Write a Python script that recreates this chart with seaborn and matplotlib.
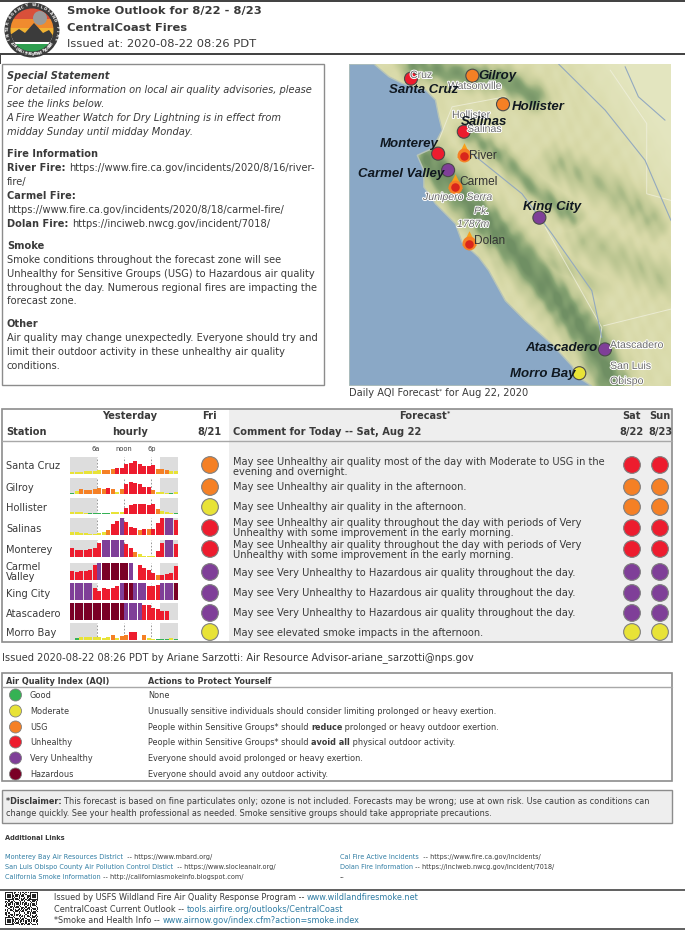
import numpy as np
import pandas as pd
import matplotlib
matplotlib.use("Agg")
import matplotlib.pyplot as plt
from matplotlib.colors import LinearSegmentedColormap
from matplotlib.patches import Circle, Polygon, Rectangle
import matplotlib.patheffects as pe
import seaborn as sns

W, H = 685, 930

# AQI colours
aqi_names = ["Good", "Moderate", "USG", "Unhealthy", "Very Unhealthy", "Hazardous"]
aqi_codes = ["G", "M", "S", "U", "V", "H"]
aqi_colors = ["#35b254", "#e8e337", "#f58025", "#ed1c2e", "#7f3f98", "#7a0026"]
aqi_actions = [
    [("None", False)],
    [("Unusually sensitive individuals should consider limiting prolonged or heavy exertion.", False)],
    [("People within Sensitive Groups* should ", False), ("reduce", True), (" prolonged or heavy outdoor exertion.", False)],
    [("People within Sensitive Groups* should ", False), ("avoid all", True), (" physical outdoor activity.", False)],
    [("Everyone should avoid prolonged or heavy exertion.", False)],
    [("Everyone should avoid any outdoor activity.", False)],
]
palette = dict(zip(aqi_codes, aqi_colors))

stations = ["Santa Cruz", "Gilroy", "Hollister", "Salinas", "Monterey",
            "Carmel\nValley", "King City", "Atascadero", "Morro Bay"]

# yesterday hourly, height is share of the little panel, code is the AQI class
santa_cruz_hourly = [.12, .12, .12, .15, .15, .2, .22, .25, .25, .3, .38, .38, .6, .65, .78, .6, .45, .48, .5, .3, .28, .25, .2, .2]
santa_cruz_codes = "MMMMMMMSSSUUUUUUUUUSSSMM"
gilroy_hourly = [.08, .18, .32, .25, .28, .33, .38, .33, .36, .3, .1, .3, .6, .75, .68, .62, .45, .42, .25, .12, .1, .08, .08, .1]
gilroy_codes = "GMSSSSSSUSMSUUUUUUSMMMGM"
hollister_hourly = [.12, .12, .1, .08, .06, .06, .06, .06, .06, .1, .12, .12, .4, .55, .6, .62, .6, .55, .6, .3, .18, .12, .08, .07]
hollister_codes = "MMMMGGGGGMMMUUUUUUUSMMMG"
salinas_hourly = [.18, .15, .12, .1, .08, .08, .1, .15, .32, .62, .8, 1, .75, .5, .42, .3, .35, .35, .38, .7, .98, 1, 1, .88]
salinas_codes = "MMMMMMMMSUUVUUUSUSUUUVVU"
monterey_hourly = [.5, .4, .42, .42, .45, .55, .8, 1, 1, 1, 1, 1, .75, .5, .3, .15, .08, .05, .05, .38, .8, 1, 1, .75]
monterey_codes = "UUUUUUUVVVVVUUSMMMMUUVVU"
carmel_hourly = [.55, .5, .55, .52, .6, .9, 1, 1, 1, 1, 1, 1, 1, 1, None, .9, .7, .6, .4, .32, .32, .35, .42, .8]
carmel_codes = "UUUUUUVHHHHHHV-UUUUSUUUU"
king_city_hourly = [1, 1, 1, 1, 1, .72, .55, .72, .65, .7, .85, 1, 1, 1, 1, 1, 1, .8, .8, .9, 1, 1, 1, 1]
king_city_codes = "VVVVVUUUUUUVHHVVVUUUVVVH"
atascadero_hourly = [1, 1, 1, 1, 1, 1, 1, 1, 1, 1, 1, 1, 1, 1, 1, 1, .9, .88, .7, .65, .55, .52, None, None]
atascadero_codes = "HHHHHHHHHHHHVVVVUUUUUU--"
morro_bay_hourly = [None, .1, .15, .18, .18, .15, .15, .12, .15, .27, .12, .22, .3, .45, .47, None, .28, .12, .06, .08, .08, .08, .1, .07]
morro_bay_codes = "-GMMMMMMMSMSSUU-SMMGGGMG"

hourly_values = [santa_cruz_hourly, gilroy_hourly, hollister_hourly, salinas_hourly, monterey_hourly,
                 carmel_hourly, king_city_hourly, atascadero_hourly, morro_bay_hourly]
hourly_codes = [santa_cruz_codes, gilroy_codes, hollister_codes, salinas_codes, monterey_codes,
                carmel_codes, king_city_codes, atascadero_codes, morro_bay_codes]

# daily dots
fri_aqi = ["S", "S", "M", "U", "U", "V", "V", "V", "M"]
sat_aqi = ["U", "S", "S", "U", "U", "V", "V", "V", "M"]
sun_aqi = ["U", "S", "S", "U", "U", "V", "V", "V", "M"]

comments = [
    ["May see Unhealthy air quality most of the day with Moderate to USG in the", "evening and overnight."],
    ["May see Unhealthy air quality in the afternoon."],
    ["May see Unhealthy air quality in the afternoon."],
    ["May see Unhealthy air quality throughout the day with periods of Very", "Unhealthy with some improvement in the early morning."],
    ["May see Unhealthy air quality throughout the day with periods of Very", "Unhealthy with some improvement in the early morning."],
    ["May see Very Unhealthy to Hazardous air quality throughout the day."],
    ["May see Very Unhealthy to Hazardous air quality throughout the day."],
    ["May see Very Unhealthy to Hazardous air quality throughout the day."],
    ["May see elevated smoke impacts in the afternoon."],
]

# map stations, lon / lat
map_names = ["Santa Cruz", "Gilroy", "Hollister", "Salinas", "Monterey",
             "Carmel Valley", "King City", "Atascadero", "Morro Bay"]
map_lon = [-122.03, -121.60, -121.385, -121.66, -121.84, -121.77, -121.13, -120.67, -120.85]
map_lat = [36.97, 36.986, 36.83, 36.68, 36.56, 36.47, 36.21, 35.49, 35.36]
map_aqi = ["U", "S", "S", "U", "U", "V", "V", "V", "M"]
fire_names = ["River", "Carmel", "Dolan"]
fire_lon = [-121.66, -121.72, -121.625]
fire_lat = [36.57, 36.40, 36.09]

# layout, in page pixels
row_y = [465, 487, 507, 528, 549, 572, 593, 613, 632]
panel_top = [457, 478, 498, 518, 540, 563, 583, 603, 623]
panel_bottom = [474, 494, 514, 535, 557, 580, 600, 620, 640]
comment_y = [[462, 472], [487], [507], [523, 533], [545, 555], [573], [593], [613], [633]]
legend_y = [695, 711, 727, 742, 758, 774]

TXT = "#3a3a3a"
LINK = "#2f7ca3"
GREY = "#8c8c8c"
MAP_X0, MAP_X1, MAP_Y0, MAP_Y1 = 349, 671, 64, 386
LON0, LON1, LAT0, LAT1 = -122.465, -120.207, 35.29, 37.05

sns.set_theme(style="white")
plt.rcParams["font.family"] = ["DejaVu Sans"]

fig = plt.figure(figsize=(W / 100, H / 100), dpi=100, facecolor="white")
page = fig.add_axes([0, 0, 1, 1])
page.set_xlim(0, W)
page.set_ylim(H, 0)
page.axis("off")
renderer = fig.canvas.get_renderer()


def put(x, y, s, size=7.1, bold=False, italic=False, color=TXT, ha="left", **kw):
    return page.text(x, y, s, fontsize=size, color=color, ha=ha, va="center",
                     fontweight="bold" if bold else "normal",
                     fontstyle="italic" if italic else "normal", **kw)


def put_runs(x, y, runs, size=7.1):
    # runs are (text, bold, colour), drawn one after the other
    for run in runs:
        s, bold = run[0], run[1]
        color = run[2] if len(run) > 2 else TXT
        t = put(x, y, s, size=size, bold=bold, color=color)
        x += t.get_window_extent(renderer).width
    return x


def make_axes(x0, y0, x1, y1):
    return fig.add_axes([x0 / W, 1 - y1 / H, (x1 - x0) / W, (y1 - y0) / H])


# header
page.add_patch(Rectangle((0, 0), W, 2, color="#444444", lw=0))
page.add_patch(Rectangle((0, 53), W, 2, color="#444444", lw=0))
page.add_patch(Rectangle((0, 55), 1.5, 9, color="#444444", lw=0))
put(67, 11, "Smoke Outlook for 8/22 - 8/23", size=8.25, bold=True)
put(67, 28, "CentralCoast Fires", size=8.25, bold=True)
put(67, 44, "Issued at: 2020-08-22 08:26 PDT", size=8.25)

# logo
LX, LY = 32, 30
page.add_patch(Circle((LX, LY), 27.5, color="#3b3b3b", lw=0))
disc = Circle((LX, LY), 21.5, transform=page.transData)
for y0, y1, c in [(8, 19, "#d9503a"), (19, 28, "#f08b2e"), (28, 37, "#f2b233"), (37, 44, "#ffffff"), (44, 53, "#2e9e4f")]:
    band = Rectangle((8, y0), 48, y1 - y0, color=c, lw=0)
    page.add_patch(band)
    band.set_clip_path(disc)
smoke = Circle((40, 18), 7, color="#9a9a9a", lw=0)
page.add_patch(smoke)
smoke.set_clip_path(disc)
hills = Polygon([(10, 35), (19, 29), (25, 33), (34, 23), (43, 33), (49, 30), (54, 37), (54, 42), (10, 42)], color="#3b3b3b", lw=0)
page.add_patch(hills)
hills.set_clip_path(disc)
ring_top = "INTER-AGENCY WILDLAND FIRE"
ring_bottom = "AIR QUALITY RESPONSE PROGRAM"
for i, ch in enumerate(ring_top):
    a = np.radians(205 - 230 * (i + 0.5) / len(ring_top))
    page.text(LX + 24.5 * np.cos(a), LY - 24.5 * np.sin(a), ch, fontsize=2.7, fontweight="bold", color="white",
              ha="center", va="center", rotation=np.degrees(a) - 90)
for i, ch in enumerate(ring_bottom):
    a = np.radians(212 + 116 * (i + 0.5) / len(ring_bottom))
    page.text(LX + 24.5 * np.cos(a), LY - 24.5 * np.sin(a), ch, fontsize=2.3, fontweight="bold", color="white",
              ha="center", va="center", rotation=np.degrees(a) + 90)

# statement box
page.add_patch(Rectangle((2, 64), 322, 321, fc="white", ec=GREY, lw=1))
BODY = 7.1
put(7, 76, "Special Statement", size=BODY, bold=True, italic=True)
put(7, 90, "For detailed information on local air quality advisories, please", size=BODY, italic=True)
put(7, 104, "see the links below.", size=BODY, italic=True)
put(7, 118, "A Fire Weather Watch for Dry Lightning is in effect from", size=BODY, italic=True)
put(7, 132, "midday Sunday until midday Monday.", size=BODY, italic=True)
put(7, 154, "Fire Information", size=BODY, bold=True)
put_runs(7, 168, [("River Fire: ", True), ("https://www.fire.ca.gov/incidents/2020/8/16/river-", False)], BODY)
put(7, 182, "fire/", size=BODY)
put(7, 196, "Carmel Fire:", size=BODY, bold=True)
put(7, 210, "https://www.fire.ca.gov/incidents/2020/8/18/carmel-fire/", size=BODY)
put_runs(7, 224, [("Dolan Fire: ", True), ("https://inciweb.nwcg.gov/incident/7018/", False)], BODY)
put(7, 246, "Smoke", size=BODY, bold=True)
put(7, 260, "Smoke conditions throughout the forecast zone will see", size=BODY)
put(7, 274, "Unhealthy for Sensitive Groups (USG) to Hazardous air quality", size=BODY)
put(7, 288, "throughout the day. Numerous regional fires are impacting the", size=BODY)
put(7, 301, "forecast zone.", size=BODY)
put(7, 324, "Other", size=BODY, bold=True)
put(7, 338, "Air quality may change unexpectedly. Everyone should try and", size=BODY)
put(7, 352, "limit their outdoor activity in these unhealthy air quality", size=BODY)
put(7, 366, "conditions.", size=BODY)

# map: shaded terrain from ridges, coast on top
def to_lonlat(points):
    pts = np.array(points, dtype=float)
    lon = LON0 + (pts[:, 0] - 10) / 968 * (LON1 - LON0)
    lat = LAT1 - (pts[:, 1] - 12) / 963 * (LAT1 - LAT0)
    return np.column_stack([lon, lat])


ridges = [
    ([(250, 300), (400, 460), (500, 560), (640, 720), (740, 840), (800, 960)], 36, 0.78),
    ([(370, 220), (470, 290), (560, 380), (680, 470)], 22, 0.5),
    ([(640, 310), (800, 390), (930, 480)], 34, 0.34),
    ([(200, 12), (330, 40), (480, 60), (570, 110)], 28, 0.62),
    ([(480, 590), (640, 620)], 30, 0.32),
    ([(720, 540), (960, 660)], 36, 0.28),
    ([(570, 560), (760, 680)], 20, 0.22),
]
gx, gy = np.meshgrid(np.linspace(10, 978, 322), np.linspace(12, 975, 322))
field = np.zeros_like(gx)
for pts, width, amp in ridges:
    for (xa, ya), (xb, yb) in zip(pts[:-1], pts[1:]):
        t = np.clip(((gx - xa) * (xb - xa) + (gy - ya) * (yb - ya)) / ((xb - xa) ** 2 + (yb - ya) ** 2), 0, 1)
        d2 = (gx - xa - t * (xb - xa)) ** 2 + (gy - ya - t * (yb - ya)) ** 2
        field = np.maximum(field, amp * np.exp(-d2 / (2 * width ** 2)))
shade = (0.5 * np.sin((gx + 0.6 * gy) / 11 + 1.5 * np.sin(gy / 40))
         + 0.5 * np.sin((gx - 0.5 * gy) / 7 + 1.5 * np.sin(gx / 35)))
field = np.clip(field * (1 + 0.12 * shade) + 0.04 * shade + 0.2, 0, 1)
flat = np.clip((gx - 640) / 200 - (gy - 12) / 320, 0, 1)
field = field * (1 - flat)
terrain = LinearSegmentedColormap.from_list("terrain_soft", ["#e4e6c0", "#d8d9a8", "#bcc692", "#86a372", "#708f64"])

mp = make_axes(MAP_X0, MAP_Y0, MAP_X1, MAP_Y1)
mp.imshow(field, cmap=terrain, vmin=0, vmax=1, extent=[LON0, LON1, LAT0, LAT1], origin="upper", aspect="auto", zorder=0)

coast = [(85, 12), (130, 50), (170, 70), (240, 90), (270, 120), (280, 170), (290, 210), (260, 265), (215, 285),
         (235, 330), (235, 380), (270, 430), (330, 490), (350, 545), (400, 590), (430, 630), (480, 720), (540, 780),
         (620, 850), (680, 915), (700, 950), (740, 975)]
mp.add_patch(Polygon(to_lonlat([(10, 12)] + coast + [(10, 975)]), fc="#8aa8c6", ec="#b7c4b8", lw=1, zorder=1))

rivers = [
    [(640, 12), (780, 150), (900, 300), (978, 480)],
    [(840, 20), (880, 110), (960, 180)],
    [(380, 280), (530, 400), (620, 520), (740, 690), (770, 830)],
]
roads = [
    [(795, 30), (905, 190), (905, 400), (978, 420)],
    [(280, 240), (320, 140), (480, 110)],
    [(775, 795), (978, 745)],
    [(600, 500), (770, 800), (760, 870)],
]
for line in roads:
    xy = to_lonlat(line)
    mp.plot(xy[:, 0], xy[:, 1], color="#f2f2e2", lw=0.7, alpha=0.7, zorder=2)
for line in rivers:
    xy = to_lonlat(line)
    mp.plot(xy[:, 0], xy[:, 1], color="#93a9bf", lw=0.8, zorder=2)

# fires
fires = pd.DataFrame({"lon": fire_lon, "lat": fire_lat})
sns.scatterplot(data=fires.assign(lat=fires["lat"] + 0.01), x="lon", y="lat", ax=mp, marker="^", s=110, color="#f7a11a", linewidth=0, zorder=3)
sns.scatterplot(data=fires.assign(lat=fires["lat"] - 0.02), x="lon", y="lat", ax=mp, marker="o", s=100, color="#f58025", linewidth=0, zorder=3)
sns.scatterplot(data=fires.assign(lat=fires["lat"] - 0.025), x="lon", y="lat", ax=mp, marker="o", s=38, color="#d9261c", linewidth=0, zorder=4)

# station dots
map_df = pd.DataFrame({"lon": map_lon, "lat": map_lat, "aqi": map_aqi})
sns.scatterplot(data=map_df, x="lon", y="lat", hue="aqi", palette=palette, legend=False, ax=mp, s=88,
                edgecolor="#4a4a4a", linewidth=0.8, zorder=5)
mp.set_xlim(LON0, LON1)
mp.set_ylim(LAT0, LAT1)
mp.set_xticks([])
mp.set_yticks([])
mp.set_xlabel("")
mp.set_ylabel("")
for s in mp.spines.values():
    s.set_visible(False)

halo = [pe.withStroke(linewidth=1.4, foreground="white")]
thin_labels = [("Cruz", 410, 75, False), ("Watsonville", 448, 86, False), ("Hollister", 452, 115, False), ("Salinas", 467, 129, False),
               ("Atascadero", 610, 345, False), ("San Luis", 610, 366, False), ("Obispo", 610, 381, False),
               ("Junipero Serra", 423, 197, True), ("Pk.", 474, 211, True), ("1787m", 457, 224, True)]
for s, x, y, it in thin_labels:
    t = mp.text(x, y, s, transform=page.transData, fontsize=7.6, color="#6b6b6b", va="center", zorder=6,
                fontfamily="Liberation Sans", fontstyle="italic" if it else "normal", clip_on=True)
    t.set_path_effects(halo)
place_labels = [("River", 469, 156), ("Carmel", 459, 182), ("Dolan", 474, 241)]
for s, x, y in place_labels:
    mp.text(x, y, s, transform=page.transData, fontsize=8.6, color="#333333", va="center", zorder=6, fontfamily="Liberation Sans")
station_labels = [(389, 90), (478, 76), (512, 107), (461, 122), (380, 144), (358, 174), (523, 207), (525, 348), (510, 374)]
for s, (x, y) in zip(map_names, station_labels):
    mp.text(x, y, s, transform=page.transData, fontsize=9.5, color="#101820", va="center", zorder=7,
            fontfamily="Liberation Sans", fontweight="bold", fontstyle="italic")

x_end = put_runs(349, 393, [("Daily AQI Forecast", False)], BODY)
put(x_end, 391, "*", size=4.5)
put(x_end + 3, 393, " for Aug 22, 2020", size=BODY)

# forecast table
page.add_patch(Rectangle((229, 409), 443, 232, fc="#eeeeee", ec="none"))
page.add_patch(Rectangle((2, 408.5), 670, 233, fc="none", ec=GREY, lw=1.2))
page.plot([2, 672], [441, 441], color="#a8a8a8", lw=1)
HEAD = 7.1
put(130, 416, "Yesterday", size=HEAD, bold=True, ha="center")
put(130, 432, "hourly", size=HEAD, bold=True, ha="center")
put(6, 432, "Station", size=HEAD, bold=True)
put(209, 416, "Fri", size=HEAD, bold=True, ha="center")
put(209, 432, "8/21", size=HEAD, bold=True, ha="center")
put(423, 416, "Forecast", size=HEAD, bold=True, ha="center")
put(449, 413, "*", size=4.5, bold=True, ha="center")
put(233, 432, "Comment for Today -- Sat, Aug 22", size=HEAD, bold=True)
put(632, 416, "Sat", size=HEAD, bold=True, ha="center")
put(660, 416, "Sun", size=HEAD, bold=True, ha="center")
put(632, 432, "8/22", size=HEAD, bold=True, ha="center")
put(660, 432, "8/23", size=HEAD, bold=True, ha="center")
for s, x in [("6a", 96), ("noon", 124), ("6p", 152)]:
    put(x, 449, s, size=4.8, ha="center")

hours = list(range(24))
for i, name in enumerate(stations):
    if "\n" in name:
        first, second = name.split("\n")
        put(6, row_y[i] - 5, first, size=BODY)
        put(6, row_y[i] + 5, second, size=BODY)
    else:
        put(6, row_y[i] + 1, name, size=BODY)
    for k, line in enumerate(comments[i]):
        put(233, comment_y[i][k], line, size=BODY)

    ax = make_axes(70, panel_top[i], 178, panel_bottom[i])
    ax.patch.set_alpha(0)
    df = pd.DataFrame({"hour": hours, "value": hourly_values[i], "aqi": list(hourly_codes[i])})
    df = df[df["aqi"] != "-"]
    ax.axvspan(-0.5, 5.5, color="#dddddd", lw=0, zorder=0)
    ax.axvspan(19.5, 23.5, color="#dddddd", lw=0, zorder=0)
    sns.barplot(data=df, x="hour", y="value", hue="aqi", palette=palette, order=hours, dodge=False,
                width=0.97, saturation=1, legend=False, ax=ax, linewidth=0, zorder=2)
    for h in [5.5, 11.5, 17.5]:
        ax.axvline(h, color="#888888", lw=0.6, ls=(0, (2, 2)), zorder=1)
    ax.set_xlim(-0.5, 23.5)
    ax.set_ylim(0, 1)
    ax.set_xticks([])
    ax.set_yticks([])
    ax.set_xlabel("")
    ax.set_ylabel("")
    for s in ax.spines.values():
        s.set_visible(False)

dots = pd.concat([
    pd.DataFrame({"x": 210, "y": row_y, "aqi": fri_aqi}),
    pd.DataFrame({"x": 632, "y": row_y, "aqi": sat_aqi}),
    pd.DataFrame({"x": 660, "y": row_y, "aqi": sun_aqi}),
])
sns.scatterplot(data=dots, x="x", y="y", hue="aqi", palette=palette, legend=False, ax=page, s=145,
                edgecolor="#808080", linewidth=0.8, zorder=4)

# issued line and AQI legend
put(2, 658, "Issued 2020-08-22 08:26 PDT by Ariane Sarzotti: Air Resource Advisor-ariane_sarzotti@nps.gov", size=7.12)
page.add_patch(Rectangle((2, 673), 670, 108, fc="white", ec=GREY, lw=1.2))
page.plot([2, 672], [687, 687], color="#a8a8a8", lw=1)
put(6, 681, "Air Quality Index (AQI)", size=5.9, bold=True)
put(148, 681, "Actions to Protect Yourself", size=5.9, bold=True)
legend_df = pd.DataFrame({"x": 15.5, "y": legend_y, "aqi": aqi_codes})
sns.scatterplot(data=legend_df, x="x", y="y", hue="aqi", palette=palette, legend=False, ax=page, s=75,
                edgecolor="#808080", linewidth=0.6, zorder=4)
for i, name in enumerate(aqi_names):
    put(30, legend_y[i], name, size=5.9)
    put_runs(148, legend_y[i], aqi_actions[i], size=5.9)

# disclaimer
page.add_patch(Rectangle((2, 790), 670, 33, fc="#eeeeee", ec=GREY, lw=1))
put_runs(6, 801, [("*Disclaimer: ", True), ("This forecast is based on fine particulates only; ozone is not included. Forecasts may be wrong; use at own risk. Use caution as conditions can", False)], 5.87)
put(6, 813, "change quickly. See your health professional as needed. Smoke sensitive groups should take appropriate precautions.", size=5.9)

# links
put(5, 838, "Additional Links", size=4.8, bold=True)
LS = 4.7
put_runs(5, 857, [("Monterey Bay Air Resources District", False, LINK), ("  -- https://www.mbard.org/", False)], LS)
put_runs(5, 867, [("San Luis Obispo County Air Pollution Control Distict", False, LINK), ("  -- https://www.slocleanair.org/", False)], LS)
put_runs(5, 877, [("California Smoke Information", False, LINK), (" -- http://californiasmokeinfo.blogspot.com/", False)], LS)
put_runs(340, 857, [("Cal Fire Active Incidents", False, LINK), ("  -- https://www.fire.ca.gov/incidents/", False)], LS)
put_runs(340, 867, [("Dolan Fire Information", False, LINK), (" -- https://inciweb.nwcg.gov/incident/7018/", False)], LS)
put(340, 877, "--", size=LS)

# footer
page.plot([0, W], [890, 890], color="#444444", lw=1.2)
page.plot([0, W], [929, 929], color="#444444", lw=1.2)
FS = 5.9
put_runs(54, 897, [("Issued by USFS Wildland Fire Air Quality Response Program -- ", False), ("www.wildlandfiresmoke.net", False, LINK)], FS)
put_runs(54, 909, [("CentralCoast Current Outlook -- ", False), ("tools.airfire.org/outlooks/CentralCoast", False, LINK)], FS)
put_runs(54, 920, [("*Smoke and Health Info -- ", False), ("www.airnow.gov/index.cfm?action=smoke.index", False, LINK)], FS)

# QR block
n = 29
qr = (((np.arange(n)[:, None] * 5 + np.arange(n)[None, :] * 3) % 7 < 3) ^ ((np.arange(n)[:, None] * np.arange(n)[None, :]) % 5 == 0)).astype(float)
for r, c in [(0, 0), (0, n - 7), (n - 7, 0)]:
    qr[r:r + 7, c:c + 7] = 1
    qr[r + 1:r + 6, c + 1:c + 6] = 0
    qr[r + 2:r + 5, c + 2:c + 5] = 1
qr_ax = make_axes(5, 892, 38, 925)
sns.heatmap(qr, cmap=["white", "#222222"], cbar=False, xticklabels=False, yticklabels=False, ax=qr_ax)

page.set_xlim(0, W)
page.set_ylim(H, 0)
page.set_xlabel("")
page.set_ylabel("")
fig.savefig("out.png", dpi=100)
